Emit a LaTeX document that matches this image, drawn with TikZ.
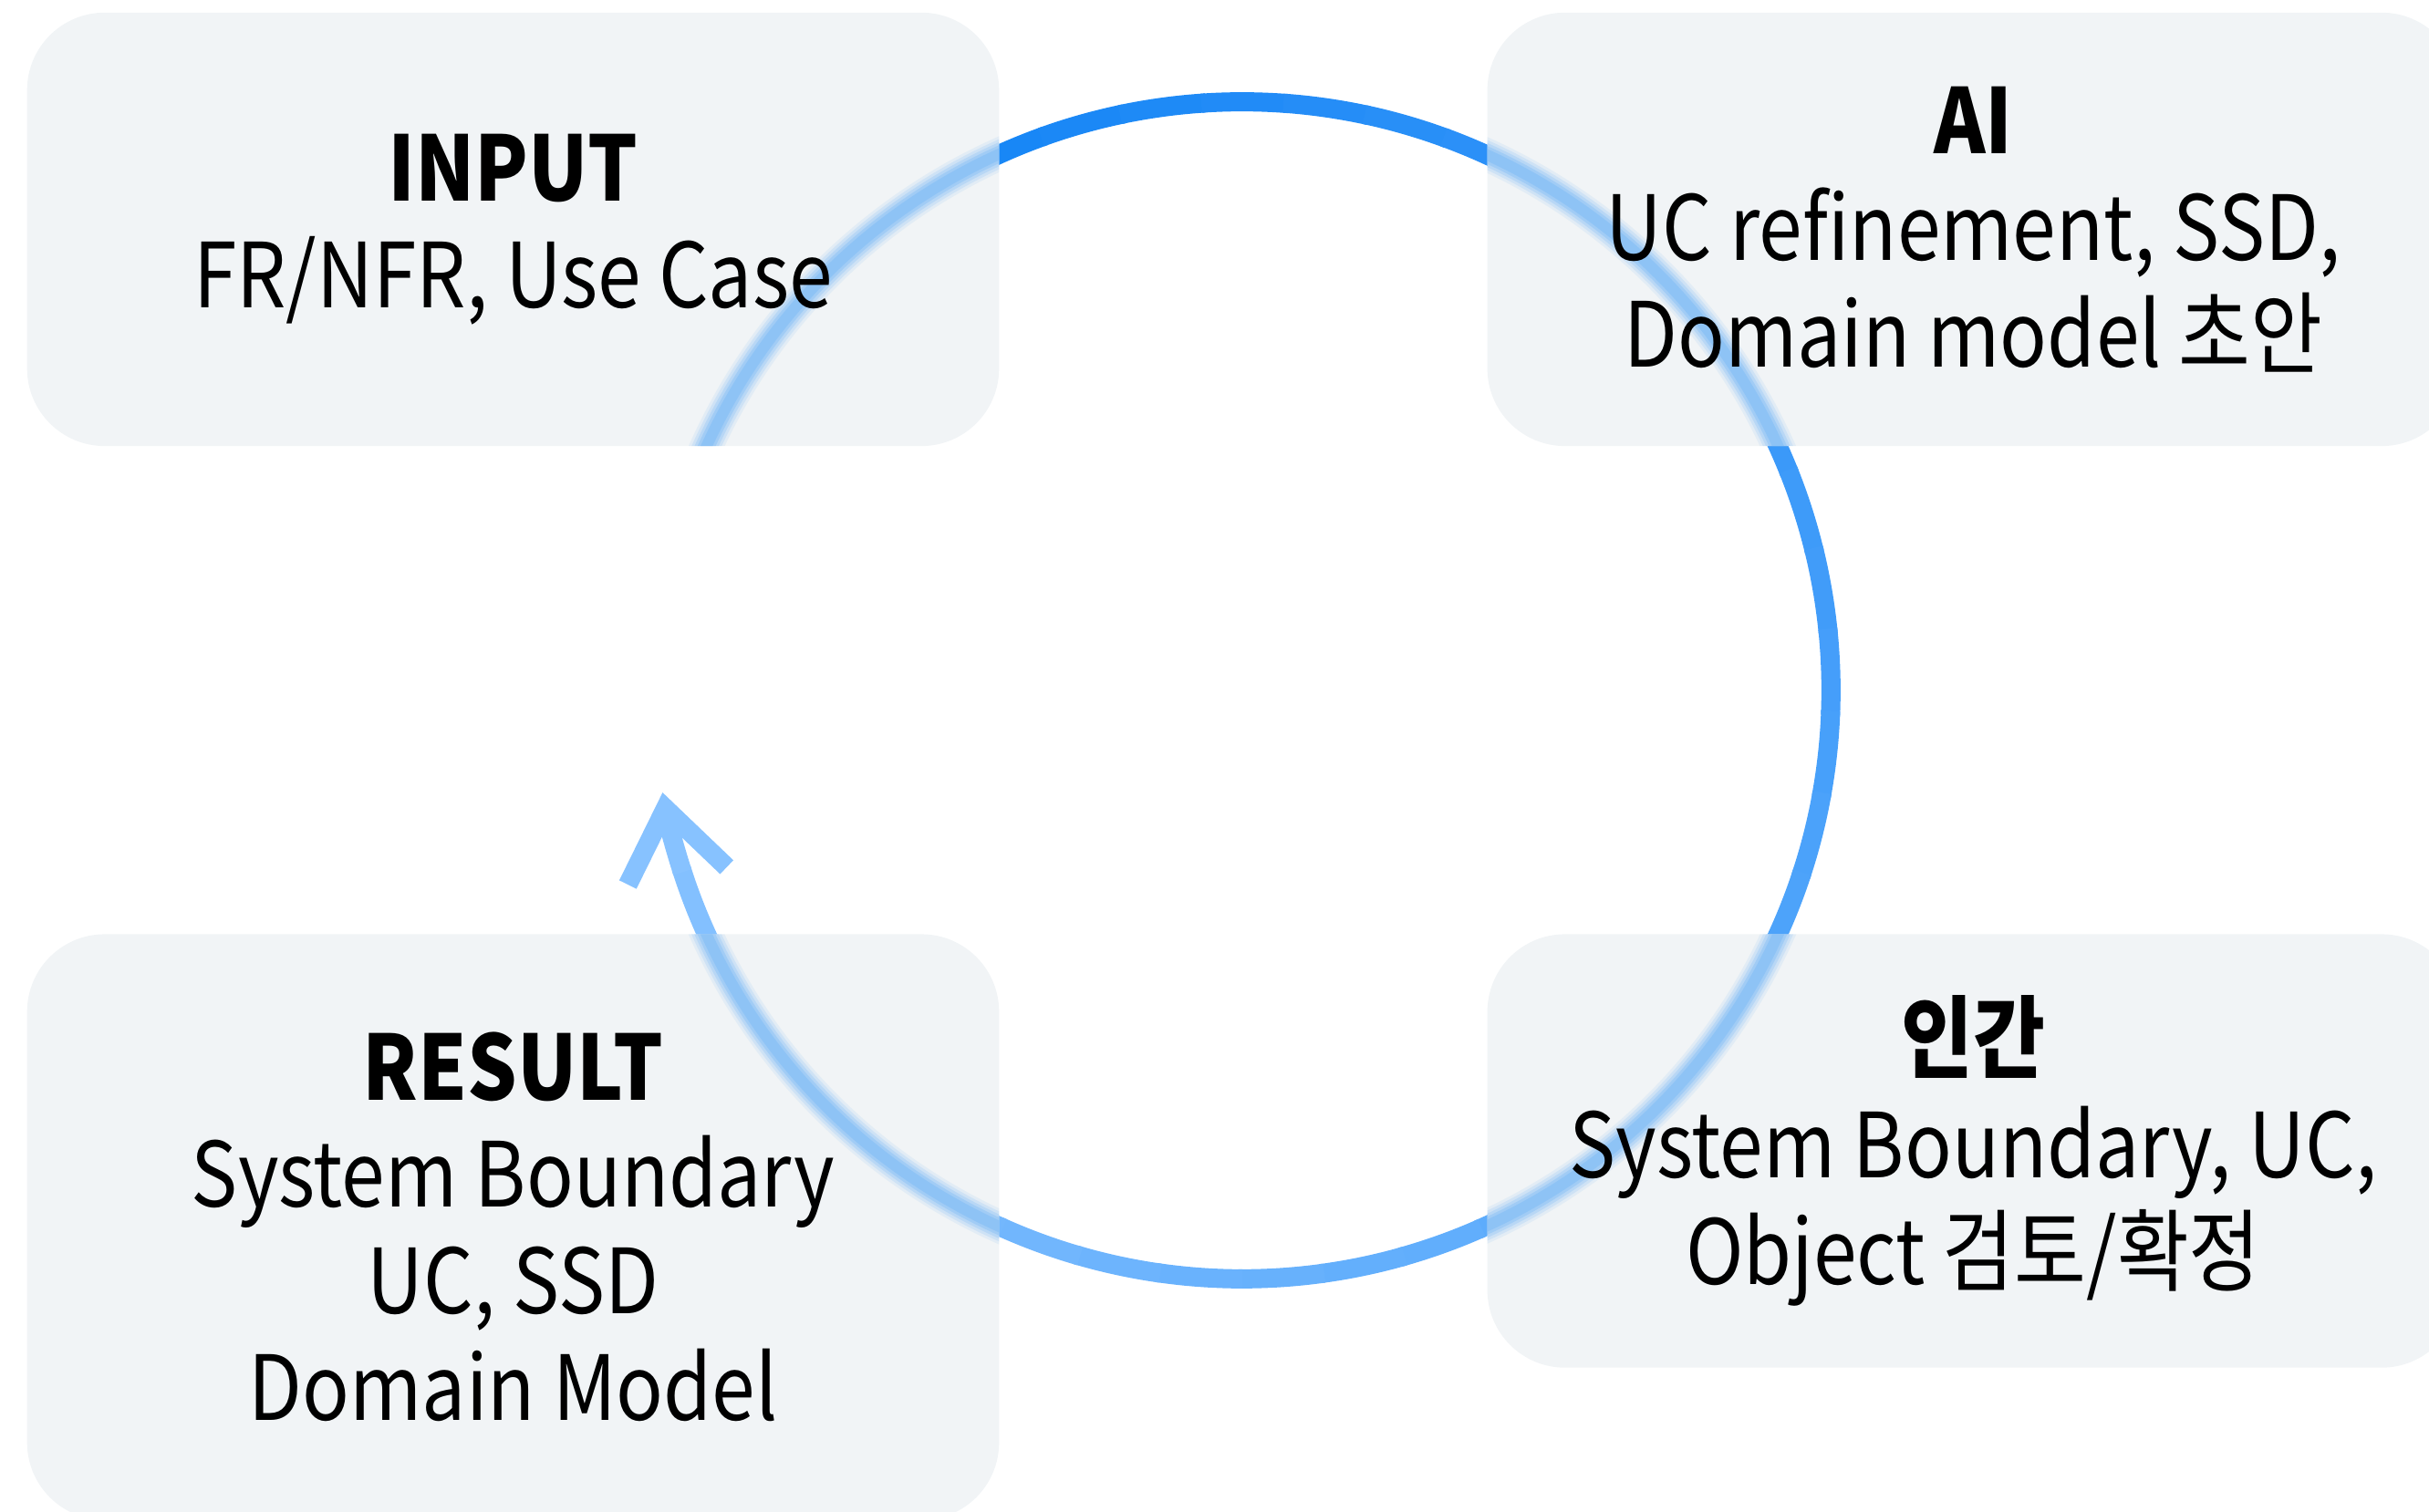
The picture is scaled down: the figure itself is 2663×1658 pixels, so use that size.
\documentclass[tikz,border=0pt]{standalone}
\usepackage{fontspec}
\setmainfont{Noto Sans CJK KR}[FakeStretch=0.87]
\usepackage{xcolor}
\usepackage{tikz}
\usetikzlibrary{arrows.meta, positioning, backgrounds}

\definecolor{boxgray}{RGB}{241,244,246}
\definecolor{cycstart}{RGB}{12,128,245}
\definecolor{cycend}{RGB}{135,194,255}
\definecolor{cycglow}{RGB}{120,185,245}

\tikzset{
  stagebox/.style={rectangle, minimum width=10.65cm, minimum height=4.75cm,
                   inner sep=0pt, outer sep=0pt, align=center, text=black,
                   font=\fontsize{28}{33.3}\selectfont},
  stagefill/.style={fill=boxgray, rounded corners=0.85cm},
  cycline/.style={line width=0.21cm},
  cycglowline/.style={draw=cycglow, line cap=round},
}

\begin{document}
\begin{tikzpicture}[x=0.01cm, y=0.01cm]
  \useasboundingbox (0,0) rectangle (2663,1658);

  % Nodes
  \node [stagebox] (input) at (562.5,1406.5)
    {\textbf{INPUT}\\FR/NFR, Use Case};
  \node [stagebox, right=5.35cm of input] (ai)
    {\textbf{AI}\\UC refinement, SSD,\\Domain model 초안};
  \node [stagebox, below=5.35cm of ai] (human)
    {\textbf{인간}\\System Boundary, UC,\\Object 검토/확정};
  \node [stagebox, below=5.35cm of input, minimum height=6.42cm] (result)
    {\textbf{RESULT}\\System Boundary\\UC, SSD\\Domain Model};

  \coordinate (cyc) at (1362,901);

  \begin{scope}[on background layer]
    % the ring, getting lighter towards the arrow
    \foreach \k in {0,...,38} {
      \pgfmathsetmacro\a{150-8.0*\k}
      \pgfmathsetmacro\b{\a-8.0-0.4}
      \pgfmathtruncatemacro\p{100*\k/39}
      \draw [cycline, draw=cycend!\p!cycstart] (cyc) ++(\a:6.45cm)
        arc [start angle=\a, end angle=\b, radius=6.45cm];
    }
    \draw [cycline, draw=cycend, -{Straight Barb[length=0.75cm, width=1.1cm]}]
      (cyc) ++(-162:6.45cm) arc [start angle=-162, end angle=-170, radius=6.45cm];

    % box bodies
    \foreach \n in {input, ai, human, result}
      \fill [stagefill] (\n.south west) rectangle (\n.north east);

    % ring seen through the boxes
    \begin{scope}
      \clip [rounded corners=0.85cm] (input.south west) rectangle (input.north east)
        (ai.south west) rectangle (ai.north east)
        (human.south west) rectangle (human.north east)
        (result.south west) rectangle (result.north east);
      \foreach \w/\o in {0.36/0.12, 0.30/0.18, 0.24/0.25, 0.18/0.35, 0.12/0.45}
        \draw [cycglowline, line width=\w cm, draw opacity=\o] (cyc) circle [radius=6.45cm];
    \end{scope}
  \end{scope}
\end{tikzpicture}
\end{document}
